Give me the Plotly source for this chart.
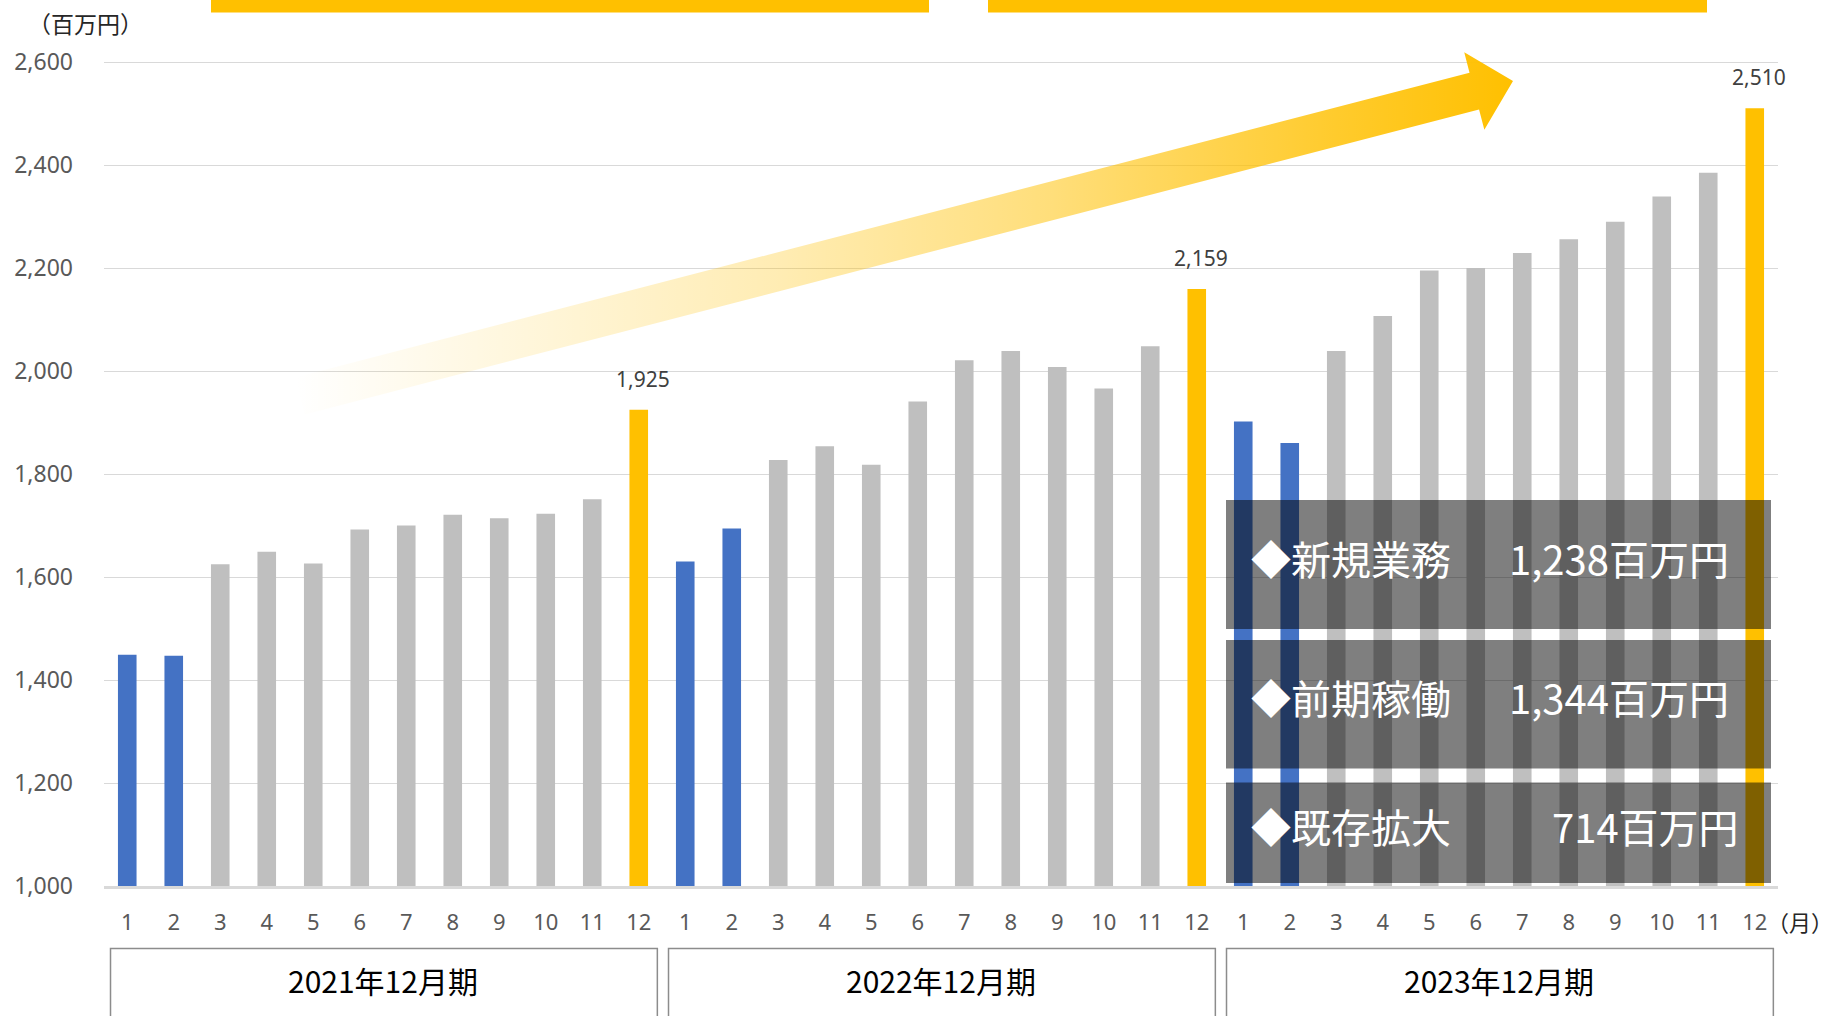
import numpy as np
import plotly.graph_objects as go

# ---------------- data ----------------
periods = ["2021年12月期", "2022年12月期", "2023年12月期"]
months = ["1", "2", "3", "4", "5", "6", "7", "8", "9", "10", "11", "12"]
sales_2021 = [1449, 1447, 1625, 1649, 1626, 1692, 1700, 1721, 1714, 1723, 1751, 1925]
sales_2022 = [1630, 1694, 1827, 1854, 1818, 1941, 2021, 2039, 2008, 1966, 2048, 2159]
sales_2023 = [1902, 1860, 2039, 2107, 2195, 2200, 2229, 2256, 2290, 2339, 2385, 2510]
breakdown_labels = ["新規業務", "前期稼働", "既存拡大"]
breakdown_values = [1238, 1344, 714]
y_unit_label = "（百万円）"
x_unit_label = "（月）"

# ---------------- styles ----------------
BLUE = "#4472C4"
GRAY = "#BFBFBF"
GOLD = "#FFC000"
JP = "Noto Sans CJK JP"
NUM = "Noto Sans, Noto Sans CJK JP"

W, H = 1836, 1016
L, R, T, B = 104, 1778, 40, 886          # plot area in pixels
Y_LOW, Y_GRID_TOP, Y_GRID_TOP_PX = 1000, 2600, 62
ppu = (B - Y_GRID_TOP_PX) / (Y_GRID_TOP - Y_LOW)
y_top = Y_GRID_TOP + (Y_GRID_TOP_PX - T) / ppu


def px(xp):
    return (xp - L) / (R - L)


def py(yp):
    return (B - yp) / (B - T)


all_sales = sales_2021 + sales_2022 + sales_2023
n = len(all_sales)
xs = list(range(n))
month_labels = months * len(periods)


def bar_color(m):
    if m in ("1", "2"):
        return BLUE
    if m == "12":
        return GOLD
    return GRAY


colors = [bar_color(m) for m in month_labels]

fig = go.Figure()
fig.add_trace(go.Bar(
    x=xs, y=all_sales, marker=dict(color=colors, line=dict(width=0)),
    width=0.4, showlegend=False, hoverinfo="skip",
))

# ---------------- gradient arrow (decoration, pixel space) ----------------
tail = np.array([300.0, 396.0])
tip = np.array([1513.0, 81.0])
u = (tip - tail) / np.linalg.norm(tip - tail)
nrm = np.array([-u[1], u[0]])
shaft_w, head_len, head_w = 19.0, 40.0, 40.0
base = tip - u * head_len
poly = [tail + nrm * shaft_w, base + nrm * shaft_w, base + nrm * head_w, tip,
        base - nrm * head_w, base - nrm * shaft_w, tail - nrm * shaft_w, tail + nrm * shaft_w]
poly = np.array(poly)
fig.add_trace(go.Scatter(
    x=poly[:, 0], y=poly[:, 1], xaxis="x2", yaxis="y2", mode="lines",
    line=dict(width=0, color="rgba(0,0,0,0)"), fill="toself",
    fillgradient=dict(type="horizontal", colorscale=[
        [0.0, "rgba(255,192,0,0.0)"], [0.4, "rgba(255,192,0,0.30)"],
        [0.62, "rgba(255,192,0,0.52)"], [0.85, "rgba(255,192,0,0.82)"],
        [1.0, "rgba(255,192,0,1.0)"]]),
    showlegend=False, hoverinfo="skip",
))

shapes = []
annotations = []

# top header bands (cropped)
for x0, x1 in [(211, 929), (988, 1707)]:
    shapes.append(dict(type="rect", xref="paper", yref="paper", x0=px(x0), x1=px(x1),
                       y0=py(12.5), y1=py(-2), fillcolor=GOLD, line=dict(width=0), layer="above"))

# period boxes
for i, p in enumerate(periods):
    shapes.append(dict(type="rect", xref="x", yref="paper",
                       x0=i * 12 - 0.5 + 0.14, x1=i * 12 + 11.5 - 0.1,
                       y0=py(1040), y1=py(948.5), fillcolor="white",
                       line=dict(color="#8C8C8C", width=1.5), layer="above"))
    annotations.append(dict(x=i * 12 + 5.5, y=py(980), xref="x", yref="paper", text=p,
                            showarrow=False, font=dict(family=JP, size=30, color="#000000"),
                            xanchor="center", yanchor="middle"))

# year-end value labels
for i, (m, v) in enumerate(zip(month_labels, all_sales)):
    if m == "12":
        annotations.append(dict(x=i, y=v, xref="x", yref="y", text=f"{v:,}", showarrow=False,
                                yshift=31, xshift=4, font=dict(family=NUM, size=21, color="#404040"),
                                xanchor="center", yanchor="middle"))

# breakdown overlay boxes
box_rows = [(500, 629), (640, 768.5), (782.5, 883)]
for (y0, y1), lab, val in zip(box_rows, breakdown_labels, breakdown_values):
    shapes.append(dict(type="rect", xref="paper", yref="paper", x0=px(1226), x1=px(1771),
                       y0=py(y1), y1=py(y0), fillcolor="rgba(0,0,0,0.5)", line=dict(width=0),
                       layer="above"))
    yc = (y0 + y1) / 2 - 7
    annotations.append(dict(x=px(1249), y=py(yc), xref="paper", yref="paper", text="◆" + lab,
                            showarrow=False, xanchor="left", yanchor="middle",
                            font=dict(family=JP, size=40, color="white")))
    xr = 1731 if val >= 1000 else 1741
    annotations.append(dict(x=px(xr), y=py(yc), xref="paper", yref="paper", text=f"{val:,}百万円",
                            showarrow=False, xanchor="right", yanchor="middle",
                            font=dict(family=JP, size=40, color="white")))

# unit labels
annotations.append(dict(x=px(26), y=py(23), xref="paper", yref="paper", text=y_unit_label,
                        showarrow=False, xanchor="left", yanchor="middle",
                        font=dict(family=JP, size=23, color="#262626")))
annotations.append(dict(x=px(1835), y=py(921), xref="paper", yref="paper", text=x_unit_label,
                        showarrow=False, xanchor="right", yanchor="middle",
                        font=dict(family=JP, size=22, color="#262626")))

fig.update_layout(
    width=W, height=H,
    margin=dict(l=L, r=W - R, t=T, b=H - B, pad=0),
    paper_bgcolor="white", plot_bgcolor="white",
    bargap=0.6,
    shapes=shapes, annotations=annotations,
    xaxis=dict(range=[-0.5, n - 0.5], tickmode="array", tickvals=xs, ticktext=month_labels,
               showgrid=False, zeroline=False, showline=True, linecolor="#D9D9D9", linewidth=2.5,
               ticks="", ticklabelstandoff=15,
               tickfont=dict(family=NUM, size=22, color="#595959"), fixedrange=True),
    yaxis=dict(range=[Y_LOW, y_top], tick0=Y_LOW, dtick=200, tickformat=",d",
               showgrid=True, gridcolor="#D9D9D9", gridwidth=1.3, zeroline=False, showline=False,
               ticks="", ticklabelstandoff=30,
               tickfont=dict(family=NUM, size=23, color="#595959"), fixedrange=True),
    xaxis2=dict(overlaying="x", range=[L, R], visible=False, fixedrange=True),
    yaxis2=dict(overlaying="y", range=[B, T], visible=False, fixedrange=True),
)

fig.write_html("out.html", config={"displayModeBar": False},
               post_script="document.body.style.margin='0';document.body.style.overflow='hidden';")
